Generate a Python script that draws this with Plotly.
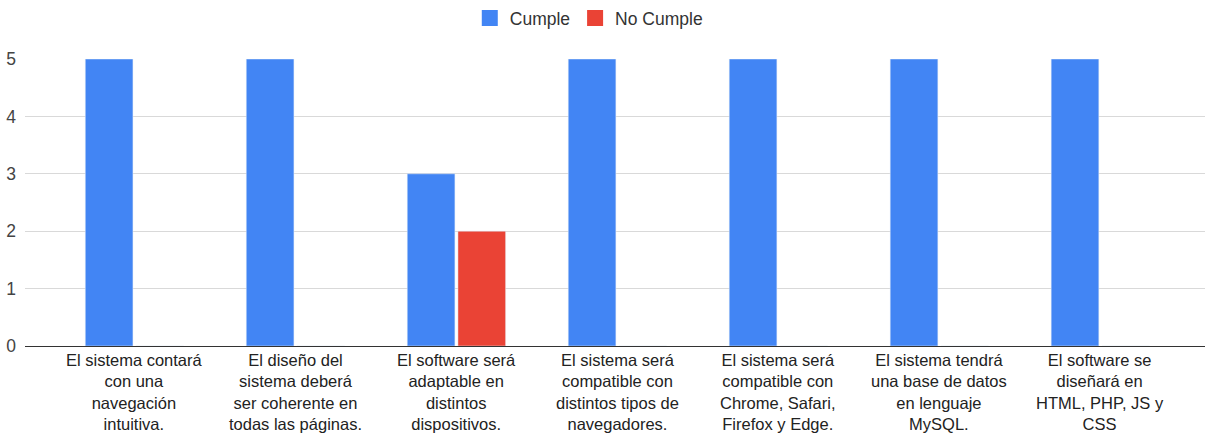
import plotly.graph_objects as go

# Category labels, one list of wrapped lines per requirement
label_lines = [
    ["El sistema contará", "con una", "navegación", "intuitiva."],
    ["El diseño del", "sistema deberá", "ser coherente en", "todas las páginas."],
    ["El software será", "adaptable en", "distintos", "dispositivos."],
    ["El sistema será", "compatible con", "distintos tipos de", "navegadores."],
    ["El sistema será", "compatible con", "Chrome, Safari,", "Firefox y Edge."],
    ["El sistema tendrá", "una base de datos", "en lenguaje", "MySQL."],
    ["El software se", "diseñará en", "HTML, PHP, JS y", "CSS"],
]
categories = [" ".join(lines) for lines in label_lines]
cumple = [5, 5, 3, 5, 5, 5, 5]
no_cumple = [0, 0, 2, 0, 0, 0, 0]
y_ticks = [0, 1, 2, 3, 4, 5]

BLUE = "#4285F4"
RED = "#EA4335"
FONT = "Liberation Sans, Arial, sans-serif"
FONT_SIZE = 17.5
LABEL_SIZE = 16.5

fig = go.Figure()
fig.add_trace(go.Bar(name="Cumple", x=categories, y=cumple, marker_color=BLUE,
                     showlegend=False))
fig.add_trace(go.Bar(name="No Cumple", x=categories, y=no_cumple, marker_color=RED,
                     showlegend=False))

# Legend entries with larger square swatches
for name, color in [("Cumple", BLUE), ("No Cumple", RED)]:
    fig.add_trace(go.Scatter(
        name=name, x=[None], y=[None], mode="markers",
        marker=dict(symbol="square", size=18, color=color),
        showlegend=True, hoverinfo="skip",
    ))

# Wrapped category labels under each category
for cat, lines in zip(categories, label_lines):
    fig.add_annotation(
        x=cat, xref="x", y=0, yref="paper",
        text="<br>".join(lines), showarrow=False,
        xanchor="center", yanchor="top", align="center",
        yshift=-3,
        font=dict(family=FONT, size=LABEL_SIZE, color="#222222"),
    )

fig.update_layout(
    width=1209,
    height=434,
    barmode="group",
    bargap=0.37,
    bargroupgap=0.06,
    plot_bgcolor="white",
    paper_bgcolor="white",
    font=dict(family=FONT, size=FONT_SIZE, color="#222222"),
    margin=dict(l=25, r=4, t=59, b=88),
    legend=dict(
        orientation="h",
        x=0.487,
        xref="container",
        xanchor="center",
        y=1.0,
        yref="container",
        yanchor="top",
        font=dict(size=FONT_SIZE, color="#333333"),
        itemclick=False,
    ),
    xaxis=dict(
        range=[-0.68, 6.65],
        showgrid=False,
        showline=True,
        linecolor="#333333",
        linewidth=1,
        ticks="",
        showticklabels=False,
    ),
    yaxis=dict(
        range=[0, 5],
        tickvals=y_ticks,
        showgrid=True,
        gridcolor="#d9d9d9",
        zeroline=False,
        ticks="",
        ticklabelstandoff=8,
        tickfont=dict(size=FONT_SIZE, color="#444444"),
    ),
)

fig.write_html("out.html")
